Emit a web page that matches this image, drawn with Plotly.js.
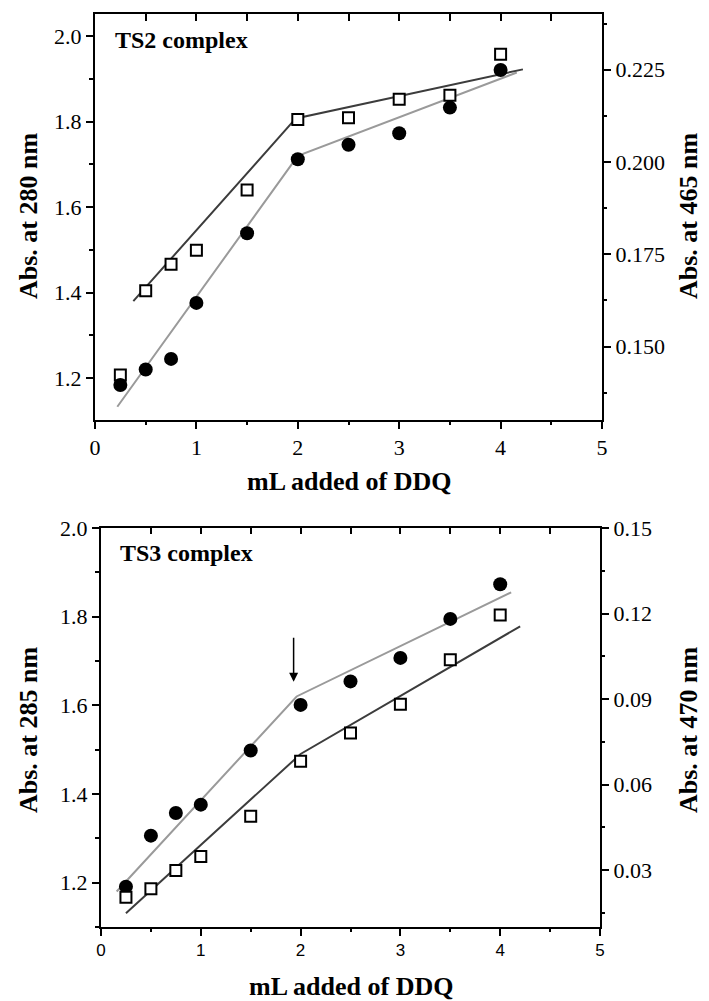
<!DOCTYPE html>
<html>
<head>
<meta charset="utf-8">
<script src="https://cdn.plot.ly/plotly-3.0.1.min.js"></script>
<style>html,body{margin:0;padding:0;background:#fff;}#chart{width:709px;height:1001px;}</style>
</head>
<body>
<div id="chart"></div>
<script>
// ---- data ----
const mlAdded = [0.25, 0.5, 0.75, 1, 1.5, 2, 2.5, 3, 3.5, 4];

// TS2 complex
const ts2Abs280 = [1.184, 1.220, 1.245, 1.376, 1.539, 1.712, 1.746, 1.773, 1.833, 1.921];
const ts2Abs465 = [0.1423, 0.1651, 0.1723, 0.1761, 0.1924, 0.2115, 0.2120, 0.2170, 0.2181, 0.2292];
const ts2Fit280X = [0.22, 2.0, 4.16];
const ts2Fit280Y = [1.133, 1.72, 1.915];
const ts2Fit465X = [0.378, 1.98, 4.22];
const ts2Fit465Y = [0.1623, 0.2118, 0.2251];

// TS3 complex
const ts3Abs285 = [1.191, 1.306, 1.357, 1.376, 1.498, 1.601, 1.654, 1.707, 1.795, 1.873];
const ts3Abs470 = [0.0204, 0.0234, 0.0298, 0.0347, 0.0489, 0.0682, 0.0781, 0.0882, 0.1038, 0.1195];
const ts3Fit285X = [0.157, 1.96, 4.11];
const ts3Fit285Y = [1.18, 1.62, 1.855];
const ts3Fit470X = [0.25, 2.0, 4.2];
const ts3Fit470Y = [0.0148, 0.0707, 0.1155];

// arrow marking the break point (TS3)
const arrowX = 1.93;
const arrowFromY = 1.756;
const arrowToY = 1.653;

// labels
const panelLabels = ['TS2 complex', 'TS3 complex'];
const xTitle = 'mL added of DDQ';
const yTitlesLeft = ['Abs. at 280 nm', 'Abs. at 285 nm'];
const yTitlesRight = ['Abs. at 465 nm', 'Abs. at 470 nm'];

// ---- styles ----
const SERIF = 'Liberation Serif';
const SANS = 'Liberation Sans';
const darkLine = '#3c3c3c';
const lightLine = '#9a9a9a';

const circleMarker = {symbol: 'circle', size: 14, color: '#000', line: {width: 0}};
const squareMarker = {symbol: 'square', size: 11, color: '#fff', line: {width: 2, color: '#000'}};

const traces = [
  // top panel
  {x: ts2Fit280X, y: ts2Fit280Y, xaxis: 'x', yaxis: 'y', mode: 'lines', line: {color: lightLine, width: 2}},
  {x: [], y: [], xaxis: 'x3', yaxis: 'y', mode: 'markers'},
  {x: ts2Fit465X, y: ts2Fit465Y, xaxis: 'x', yaxis: 'y2', mode: 'lines', line: {color: darkLine, width: 2}},
  {x: mlAdded, y: ts2Abs465, xaxis: 'x', yaxis: 'y2', mode: 'markers', marker: squareMarker},
  {x: mlAdded, y: ts2Abs280, xaxis: 'x', yaxis: 'y5', mode: 'markers', marker: circleMarker},
  // bottom panel
  {x: ts3Fit285X, y: ts3Fit285Y, xaxis: 'x2', yaxis: 'y3', mode: 'lines', line: {color: lightLine, width: 2}},
  {x: mlAdded, y: ts3Abs285, xaxis: 'x2', yaxis: 'y3', mode: 'markers', marker: circleMarker},
  {x: [], y: [], xaxis: 'x4', yaxis: 'y3', mode: 'markers'},
  {x: ts3Fit470X, y: ts3Fit470Y, xaxis: 'x2', yaxis: 'y4', mode: 'lines', line: {color: darkLine, width: 2}},
  {x: mlAdded, y: ts3Abs470, xaxis: 'x2', yaxis: 'y4', mode: 'markers', marker: squareMarker}
];

const W = 709, H = 1001;
const topDomX = [95 / W, 602 / W];
const topDomY = [1 - 420 / H, 1 - 14 / H];
const botDomX = [101 / W, 600 / W];
const botDomY = [1 - 927 / H, 1 - 528 / H];

function baseAxis(extra) {
  return Object.assign({
    showline: true, linecolor: '#000', linewidth: 2,
    ticks: 'outside', ticklen: 7, tickwidth: 2, tickcolor: '#000',
    showgrid: false, zeroline: false, fixedrange: true,
    tickfont: {family: SERIF, size: 22, color: '#000'}
  }, extra);
}
function minorTicks(d, len) {
  return {dtick: d, ticks: 'outside', ticklen: len, tickwidth: 2, tickcolor: '#000', showgrid: false};
}
const titleFont = {family: SERIF, size: 26, color: '#000', weight: 'bold'};

const layout = {
  width: W, height: H,
  margin: {l: 0, r: 0, t: 0, b: 0},
  paper_bgcolor: '#fff', plot_bgcolor: 'rgba(0,0,0,0)',
  font: {family: SERIF, color: '#000'},
  showlegend: false,
  // top panel
  xaxis: baseAxis({domain: topDomX, anchor: 'y', range: [0, 5], dtick: 1, tick0: 0, minor: minorTicks(0.5, 3)}),
  xaxis3: baseAxis({overlaying: 'x', side: 'top', anchor: 'y', range: [0, 5], dtick: 0.5, tick0: 0,
    ticks: 'inside', ticklen: 7, showticklabels: false}),
  yaxis: baseAxis({domain: topDomY, anchor: 'x', range: [1.102, 2.052], dtick: 0.2, tick0: 0, tickformat: '.1f',
    minor: minorTicks(0.1, 4)}),
  yaxis2: baseAxis({overlaying: 'y', side: 'right', anchor: 'x', range: [0.1301, 0.2401], dtick: 0.025, tick0: 0,
    tickformat: '.3f', minor: minorTicks(0.0125, 3)}),
  yaxis5: {overlaying: 'y', anchor: 'x', range: [1.102, 2.052], visible: false, fixedrange: true},
  // bottom panel
  xaxis2: baseAxis({domain: botDomX, anchor: 'y3', range: [0, 5], dtick: 1, tick0: 0,
    tickfont: {family: SANS, size: 17, color: '#000'}, minor: minorTicks(0.5, 3)}),
  xaxis4: baseAxis({overlaying: 'x2', side: 'top', anchor: 'y3', range: [0, 5], dtick: 0.5, tick0: 0,
    ticks: 'inside', ticklen: 6, showticklabels: false}),
  yaxis3: baseAxis({domain: botDomY, anchor: 'x2', range: [1.1, 2.0], dtick: 0.2, tick0: 0, tickformat: '.1f',
    minor: minorTicks(0.1, 4)}),
  yaxis4: baseAxis({overlaying: 'y3', side: 'right', anchor: 'x2', range: [0.01, 0.15], dtick: 0.03, tick0: 0,
    tickformat: '.2f', minor: minorTicks(0.015, 3)}),
  annotations: [
    {text: panelLabels[0], xref: 'x domain', yref: 'y domain', x: 0.035, y: 0.936, xanchor: 'left', yanchor: 'middle',
      showarrow: false, font: {family: SERIF, size: 24, color: '#000', weight: 'bold'}},
    {text: panelLabels[1], xref: 'x2 domain', yref: 'y3 domain', x: 0.034, y: 0.937, xanchor: 'left', yanchor: 'middle',
      showarrow: false, font: {family: SERIF, size: 24, color: '#000', weight: 'bold'}},
    {text: xTitle, xref: 'paper', yref: 'paper', x: (topDomX[0] + topDomX[1]) / 2, y: 1 - 481 / H,
      xanchor: 'center', yanchor: 'middle', showarrow: false, font: titleFont},
    {text: xTitle, xref: 'paper', yref: 'paper', x: (botDomX[0] + botDomX[1]) / 2, y: 1 - 986 / H,
      xanchor: 'center', yanchor: 'middle', showarrow: false, font: titleFont},
    {text: yTitlesLeft[0], xref: 'paper', yref: 'paper', x: 28 / W, y: 1 - 216 / H, textangle: -90,
      xanchor: 'center', yanchor: 'middle', showarrow: false, font: titleFont},
    {text: yTitlesRight[0], xref: 'paper', yref: 'paper', x: 688 / W, y: 1 - 216 / H, textangle: -90,
      xanchor: 'center', yanchor: 'middle', showarrow: false, font: titleFont},
    {text: yTitlesLeft[1], xref: 'paper', yref: 'paper', x: 28 / W, y: 1 - 730 / H, textangle: -90,
      xanchor: 'center', yanchor: 'middle', showarrow: false, font: titleFont},
    {text: yTitlesRight[1], xref: 'paper', yref: 'paper', x: 688 / W, y: 1 - 730 / H, textangle: -90,
      xanchor: 'center', yanchor: 'middle', showarrow: false, font: titleFont},
    {text: '', xref: 'x2', yref: 'y3', x: arrowX, y: arrowToY, axref: 'x2', ayref: 'y3', ax: arrowX, ay: arrowFromY,
      showarrow: true, arrowhead: 2, arrowsize: 1.2, arrowwidth: 1.5, arrowcolor: '#000'}
  ]
};

Plotly.newPlot('chart', traces, layout, {staticPlot: true, displayModeBar: false});
</script>
</body>
</html>
